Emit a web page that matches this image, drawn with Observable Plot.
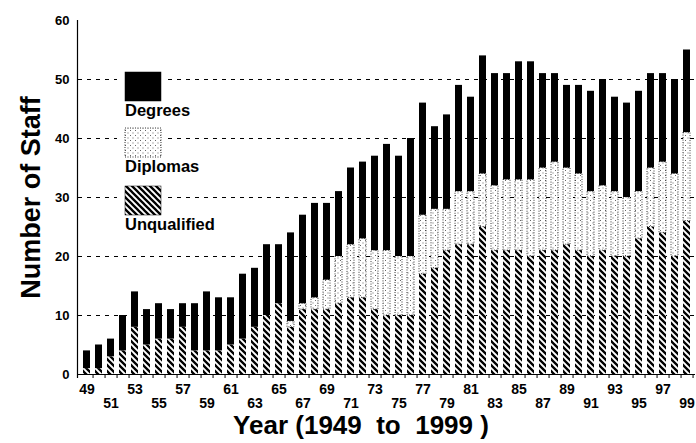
<!DOCTYPE html>
<html><head><meta charset="utf-8">
<script src="https://cdn.jsdelivr.net/npm/d3@7"></script>
<script src="https://cdn.jsdelivr.net/npm/@observablehq/plot@0.6"></script>
<style>
body{margin:0;background:#fff}
svg text{white-space:pre}
</style>
</head><body><div id="chart"></div>
<script>
const years = [1949,1950,1951,1952,1953,1954,1955,1956,1957,1958,1959,1960,1961,1962,1963,1964,1965,1966,1967,1968,1969,1970,1971,1972,1973,1974,1975,1976,1977,1978,1979,1980,1981,1982,1983,1984,1985,1986,1987,1988,1989,1990,1991,1992,1993,1994,1995,1996,1997,1998,1999];
const unqualified = [1,1,3,4,8,5,6,6,8,4,4,4,5,6,8,10,12,8,11,11,11,12,13,13,11,10,10,10,17,18,21,22,22,25,21,21,21,20,21,21,22,21,20,21,20,20,23,25,24,20,26];
const diplomas    = [0,0,0,0,0,0,0,0,0,0,0,0,0,0,0,0,0,1,1,2,5,8,9,10,10,11,10,10,10,10,7,9,9,9,11,12,12,13,14,15,13,13,11,11,11,10,8,10,12,14,15];
const degrees     = [3,4,3,6,6,6,6,5,4,8,10,9,8,11,10,12,10,15,15,16,13,11,13,13,16,18,17,20,19,14,16,18,16,20,19,18,20,20,16,15,14,15,17,18,16,16,17,16,15,16,14];
const seriesNames = ["Unqualified","Diplomas","Degrees"];
const legendOrder = ["Degrees","Diplomas","Unqualified"];
const yTicks = [0,10,20,30,40,50,60];
const gridTicks = [10,20,30,40,50];
const row1Ticks = [1949,1953,1957,1961,1965,1969,1973,1977,1981,1985,1989,1993,1997];
const row2Ticks = [1951,1955,1959,1963,1967,1971,1975,1979,1983,1987,1991,1995,1999];
const yLabel = "Number of Staff";
const xLabel = "Year (1949  to  1999 )";

const fills = {Unqualified: "url(#hatch)", Diplomas: "url(#dots)", Degrees: "#000"};
const strokes = {Unqualified: "none", Diplomas: "#000", Degrees: "none"};
const seriesValues = {Unqualified: unqualified, Diplomas: diplomas, Degrees: degrees};

const rows = [];
years.forEach((year, i) => {
  for (const s of seriesNames) {
    const v = seriesValues[s][i];
    if (v > 0) rows.push({year, series: s, value: v});
  }
});

const font = '"Liberation Sans", Arial, Helvetica, sans-serif';

const plot = Plot.plot({
  width: 696,
  height: 443,
  marginLeft: 78,
  marginRight: 1,
  marginTop: 20,
  marginBottom: 69,
  style: {fontFamily: font, fontWeight: "bold", color: "#000", background: "#fff", overflow: "visible"},
  x: {type: "band", domain: years, paddingInner: 0.42, paddingOuter: 0.15, axis: null},
  y: {domain: [0, 60], axis: null},
  color: {type: "identity"},
  marks: [
    Plot.gridY({ticks: gridTicks, stroke: "#000", strokeOpacity: 1, strokeWidth: 1, strokeDasharray: "4,5"}),
    Plot.barY(rows, Plot.stackY({
      x: "year", y: "value", z: "series",
      fill: d => fills[d.series],
      stroke: d => strokes[d.series],
      strokeWidth: 0.8,
      strokeDasharray: "1,1.5"
    })),
    Plot.ruleY([0], {stroke: "#000", strokeWidth: 1.2}),
    Plot.axisY({ticks: yTicks, tickSize: 0, tickPadding: 9, fontSize: 13, fontWeight: "bold", label: null}),
    Plot.axisX({ticks: years, tickSize: 4, tickFormat: () => "", dx: 6.06, label: null}),
    Plot.axisX({ticks: row1Ticks, tickSize: 0, tickPadding: 10, tickFormat: d => String(d).slice(2), fontSize: 14, fontWeight: "bold", label: null}),
    Plot.axisX({ticks: row2Ticks, tickSize: 0, tickPadding: 24, tickFormat: d => String(d).slice(2), fontSize: 14, fontWeight: "bold", label: null}),
    Plot.text([yLabel], {frameAnchor: "left", textAnchor: "middle", lineAnchor: "middle", dx: -47, rotate: -90, fontSize: 27, fontWeight: "bold"}),
    Plot.text([xLabel], {frameAnchor: "bottom", textAnchor: "middle", lineAnchor: "middle", dy: 51, dx: -26, fontSize: 26, fontWeight: "bold"})
  ]
});

const svg = d3.select(plot);
const defs = svg.insert("defs", ":first-child");
const hatch = defs.append("pattern").attr("id", "hatch").attr("patternUnits", "userSpaceOnUse").attr("width", 6).attr("height", 6);
hatch.append("rect").attr("width", 6).attr("height", 6).attr("fill", "#fff");
hatch.append("path").attr("d", "M-1,-1L7,7M-1,5L1,7M5,-1L7,1").attr("stroke", "#000").attr("stroke-width", 2.3);
const dots = defs.append("pattern").attr("id", "dots").attr("patternUnits", "userSpaceOnUse").attr("width", 5).attr("height", 5);
dots.append("rect").attr("width", 5).attr("height", 5).attr("fill", "#fff");
dots.append("rect").attr("x", 0).attr("y", 0).attr("width", 1).attr("height", 1).attr("fill", "#666");
dots.append("rect").attr("x", 2.5).attr("y", 2.5).attr("width", 1).attr("height", 1).attr("fill", "#666");

// left axis line
svg.append("line").attr("x1", 77.5).attr("x2", 77.5).attr("y1", 20).attr("y2", 378).attr("stroke", "#000").attr("stroke-width", 1.2);

// legend inside plot area
const legendTop = [72, 128, 186];
const legend = svg.append("g").attr("font-family", font).attr("font-weight", "bold").attr("text-anchor", "start");
legendOrder.forEach((s, i) => {
  const y0 = legendTop[i];
  legend.append("rect").attr("x", 117).attr("y", y0 - 5).attr("width", 50).attr("height", 39).attr("fill", "#fff");
  legend.append("rect").attr("x", 125).attr("y", y0).attr("width", 36).attr("height", 29)
    .attr("fill", fills[s]).attr("stroke", "#000").attr("stroke-width", s === "Diplomas" ? 0.8 : 0.5)
    .attr("stroke-dasharray", s === "Diplomas" ? "1,1.5" : null);
  legend.append("text").attr("x", 125).attr("y", y0 + 44).attr("font-size", 16.5).attr("fill", "#000").text(s);
});

document.getElementById("chart").appendChild(plot);
</script>
</body></html>
